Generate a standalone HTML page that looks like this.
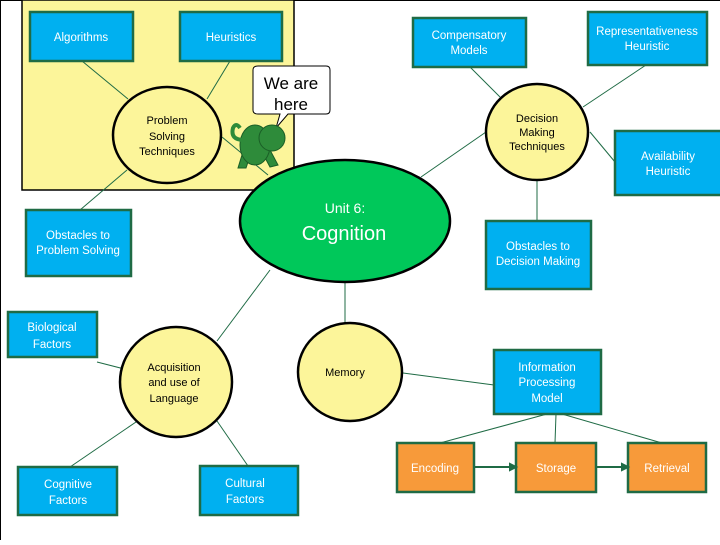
<!DOCTYPE html>
<html><head><style>
body{margin:0;width:720px;height:540px;overflow:hidden;background:#fff;font-family:"Liberation Sans",sans-serif}
svg text{font-family:"Liberation Sans",sans-serif}
</style></head><body>
<svg width="720" height="540" viewBox="0 0 720 540">
<rect x="0" y="0" width="720" height="540" fill="#fff"/>
<line x1="0.5" y1="0" x2="0.5" y2="540" stroke="#000"/>
<line x1="0" y1="0.5" x2="720" y2="0.5" stroke="#000"/>
<rect x="22" y="0" width="272" height="190" fill="#fcf59a" stroke="#000" stroke-width="1.5"/>
<g stroke="#1f6b45" stroke-width="1" fill="none">
<line x1="82" y1="61" x2="128" y2="99"/><line x1="230" y1="61" x2="207" y2="99"/>
<line x1="222" y1="137" x2="268" y2="175"/><line x1="127" y1="170" x2="80" y2="210"/>
<line x1="470" y1="67" x2="500" y2="97"/><line x1="646" y1="65" x2="583" y2="107"/>
<line x1="590" y1="132" x2="615" y2="162"/><line x1="537" y1="180" x2="537" y2="221"/>
<line x1="421" y1="177" x2="486" y2="132"/>
<line x1="345" y1="282" x2="345" y2="323"/><line x1="403" y1="373" x2="494" y2="385"/>
<line x1="547" y1="414" x2="440" y2="443"/><line x1="556" y1="414" x2="555" y2="443"/><line x1="562" y1="414" x2="662" y2="443"/>
<line x1="217" y1="341" x2="270" y2="270"/><line x1="97" y1="362" x2="136" y2="372"/>
<line x1="136" y1="422" x2="70" y2="467"/><line x1="217" y1="421" x2="248" y2="466"/>
</g>
<g fill="#00b0f0" stroke="#1f6b45" stroke-width="2.5">
<rect x="30" y="12" width="103" height="49"/><rect x="180" y="12" width="102" height="49"/>
<rect x="413" y="18" width="113" height="49"/><rect x="588" y="12" width="119" height="53"/>
<rect x="615" y="131" width="110" height="64"/><rect x="486" y="221" width="105" height="68"/>
<rect x="26" y="210" width="105" height="66"/><rect x="8" y="312" width="89" height="45"/>
<rect x="494" y="350" width="107" height="64"/><rect x="18" y="467" width="99" height="48"/>
<rect x="200" y="466" width="98" height="49"/>
</g>
<g fill="#f79a3a" stroke="#1f6b45" stroke-width="2.5">
<rect x="397" y="443" width="77" height="49"/><rect x="516" y="443" width="80" height="49"/><rect x="628" y="443" width="78" height="49"/>
</g>
<g stroke="#1f6b45" stroke-width="2" fill="#1f6b45">
<line x1="474" y1="467" x2="512" y2="467"/><polygon points="516,467 510,464 510,470"/>
<line x1="596" y1="467" x2="624" y2="467"/><polygon points="628,467 622,464 622,470"/>
</g>
<g fill="#fcf59a" stroke="#000" stroke-width="2.5">
<ellipse cx="167" cy="135" rx="54" ry="48"/><ellipse cx="537" cy="132" rx="51" ry="48"/>
<ellipse cx="176" cy="382" rx="56" ry="55"/><ellipse cx="350" cy="372" rx="52" ry="49"/>
</g>
<ellipse cx="345" cy="221" rx="105" ry="61" fill="#00c85a" stroke="#000" stroke-width="2.5"/>
<!-- speech bubble -->
<path d="M258,66 H326 Q330,66 330,70 V110 Q330,114 326,114 H288 L276,128 L280,114 H258 Q253,114 253,110 V70 Q253,66 258,66 Z" fill="#fff" stroke="#000" stroke-width="1"/>
<text x="291" y="89" font-size="17" text-anchor="middle">We are</text>
<text x="291" y="110" font-size="17" text-anchor="middle">here</text>
<!-- turtle -->
<g fill="#2e8b3a" stroke="#1a5e26" stroke-width="1">
<polygon points="242,155 252,150 246,168 238,168"/><polygon points="262,152 270,150 278,165 270,167"/>
<ellipse cx="255" cy="145" rx="15" ry="20"/>
<circle cx="272" cy="138" r="13"/>
<path d="M244,140 Q230,140 233,128 Q236,122 240,128" fill="none" stroke-width="4" stroke="#2e8b3a"/>
</g>
<g fill="#fff" font-size="11.5" text-anchor="middle">
<text x="81" y="41">Algorithms</text><text x="231" y="41">Heuristics</text>
<text x="469" y="39">Compensatory</text><text x="469" y="54">Models</text>
<text x="647" y="35">Representativeness</text><text x="647" y="50">Heuristic</text>
<text x="668" y="160">Availability</text><text x="668" y="175">Heuristic</text>
<text x="538" y="250">Obstacles to</text><text x="538" y="265">Decision Making</text>
<text x="78" y="239">Obstacles to</text><text x="78" y="254">Problem Solving</text>
<text x="52" y="331">Biological</text><text x="52" y="348">Factors</text>
<text x="547" y="371">Information</text><text x="547" y="386">Processing</text><text x="547" y="402">Model</text>
<text x="68" y="488">Cognitive</text><text x="68" y="504">Factors</text>
<text x="245" y="487">Cultural</text><text x="245" y="503">Factors</text>
<text x="435" y="472">Encoding</text><text x="556" y="472">Storage</text><text x="667" y="472">Retrieval</text>
<text x="345" y="213" font-size="14">Unit 6:</text>
<text x="344" y="240" font-size="20">Cognition</text>
</g>
<g fill="#000" font-size="11" text-anchor="middle">
<text x="167" y="124">Problem</text><text x="167" y="140">Solving</text><text x="167" y="155">Techniques</text>
<text x="537" y="122">Decision</text><text x="537" y="136">Making</text><text x="537" y="150">Techniques</text>
<text x="174" y="371">Acquisition</text><text x="174" y="386">and use of</text><text x="174" y="402">Language</text>
<text x="345" y="376">Memory</text>
</g>
</svg>
</body></html>
